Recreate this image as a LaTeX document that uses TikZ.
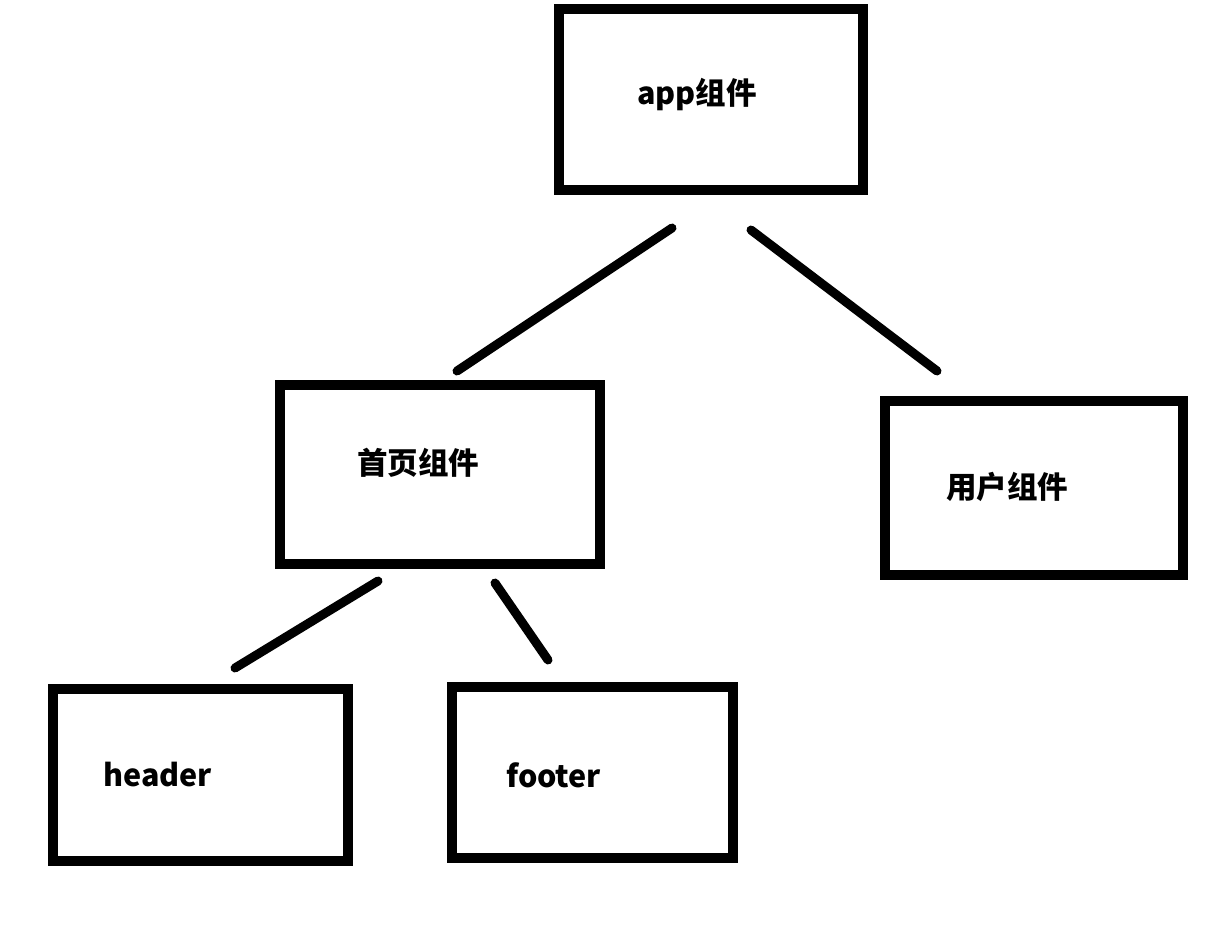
\documentclass[tikz,border=0pt]{standalone}
\usepackage{fontspec}
\newfontfamily\cjk{Noto Sans CJK SC}
\begin{document}
\begin{tikzpicture}[x=1pt,y=-1pt,
  box/.style={draw=black,line width=10pt,rectangle,inner sep=0pt,outer sep=0pt},
  lbl/.style={anchor=west,inner sep=0pt,font=\cjk\bfseries\fontsize{30.5}{33}\selectfont},
  conn/.style={draw=black,line width=9pt,line cap=round}]
\useasboundingbox[fill=white] (0,0) rectangle (1224,926);
% boxes
\node[box,minimum width=304pt,minimum height=181pt] (app) at (711,99.5) {};
\node[box,minimum width=320pt,minimum height=179pt] (home) at (440,474.5) {};
\node[box,minimum width=298pt,minimum height=174pt] (user) at (1034,488) {};
\node[box,minimum width=295pt,minimum height=172pt] (header) at (200.5,775) {};
\node[box,minimum width=281pt,minimum height=171pt] (footer) at (592.5,772.5) {};
% labels
\node[lbl] (appt) at (637,95) {app组件};
\node[lbl] (homet) at (357,463) {首页组件};
\node[lbl] (usert) at (946,487) {用户组件};
\node[lbl] (headert) at (103,775) {header};
\node[lbl] (footert) at (506,775) {footer};
% connector ends
\coordinate (appL) at (672,228);
\coordinate (homeT) at (457,371);
\coordinate (appR) at (751,230);
\coordinate (userT) at (937,371);
\coordinate (homeL) at (378,581);
\coordinate (headerT) at (235,668);
\coordinate (homeR) at (495,583);
\coordinate (footerT) at (548,660);
\draw[conn] (appL) -- (homeT);
\draw[conn] (appR) -- (userT);
\draw[conn] (homeL) -- (headerT);
\draw[conn] (homeR) -- (footerT);
\end{tikzpicture}
\end{document}
